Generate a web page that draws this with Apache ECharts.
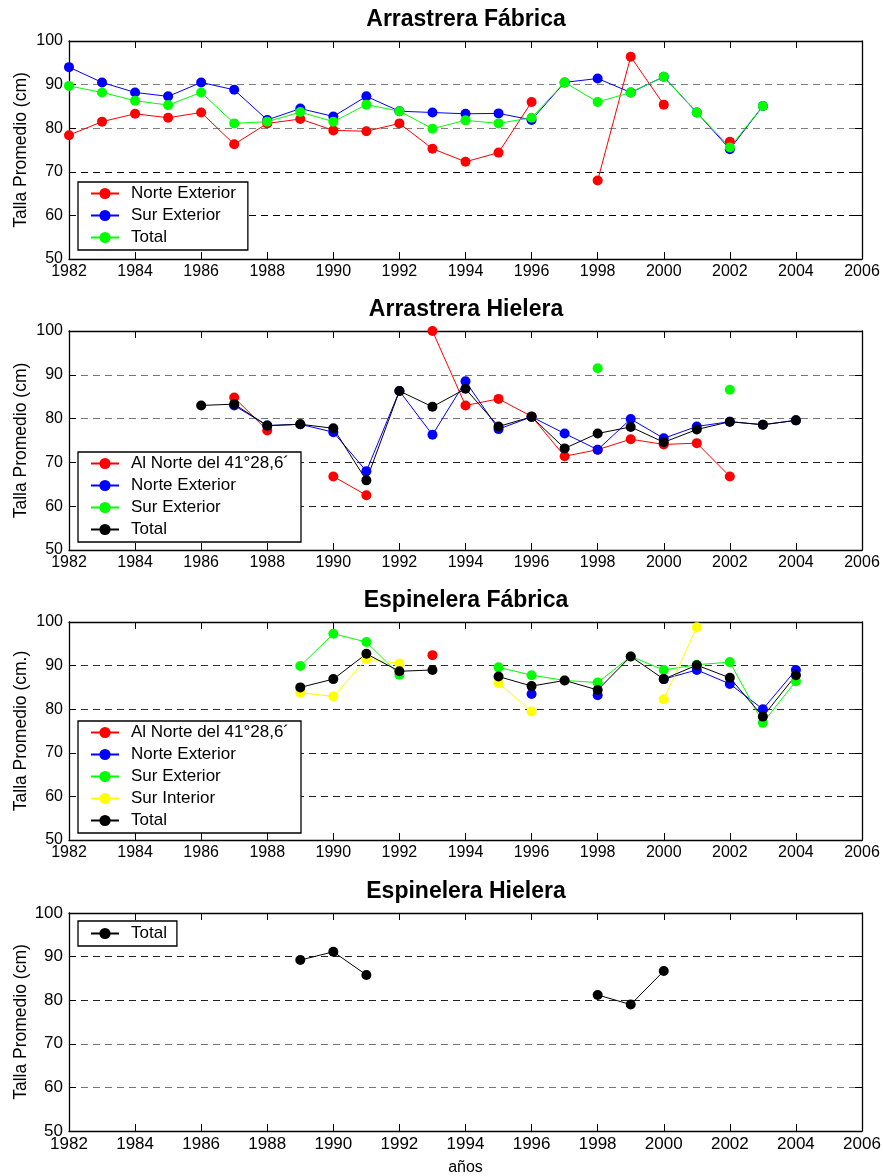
<!DOCTYPE html>
<html><head><meta charset="utf-8">
<script src="https://cdn.jsdelivr.net/npm/echarts@6/dist/echarts.min.js"></script>
<style>html,body{margin:0;padding:0;background:#fff}#c{width:883px;height:1176px}</style>
</head><body><div id="c"></div>
<script>
const years = [1982,1983,1984,1985,1986,1987,1988,1989,1990,1991,1992,1993,1994,1995,1996,1997,1998,1999,2000,2001,2002,2003,2004];
const xTicks = [1982,1984,1986,1988,1990,1992,1994,1996,1998,2000,2002,2004,2006];
const yTicks = [50,60,70,80,90,100];

// Arrastrera Fábrica
const afNorteExt = [78.4,81.5,83.3,82.4,83.6,76.3,81.1,82.1,79.5,79.3,81.1,75.3,72.3,74.4,86.0,null,68.0,96.4,85.4,null,76.9,null,null];
const afSurExt   = [94.0,90.5,88.2,87.3,90.5,88.8,81.9,84.5,82.7,87.3,83.9,83.6,83.3,83.4,81.9,90.5,91.4,88.2,91.8,83.6,75.2,85.1,null];
const afTotal    = [89.7,88.2,86.3,85.3,88.2,81.1,81.5,83.7,81.5,85.4,83.9,79.9,81.8,81.1,82.4,90.5,86.0,88.2,91.8,83.6,75.6,85.1,null];

// Arrastrera Hielera
const ahAlNorte  = [null,null,null,null,null,84.8,77.3,null,66.8,62.5,null,100.0,83.0,84.5,80.5,71.4,72.9,75.3,74.1,74.4,66.8,null,null];
const ahNorteExt = [null,null,null,null,null,83.0,78.4,78.7,76.9,68.0,86.3,76.3,88.5,77.6,80.4,76.6,72.9,79.9,75.5,78.2,79.3,78.6,79.6];
const ahSurExt   = [null,null,null,null,null,null,null,null,null,null,null,null,null,null,null,null,91.5,null,null,null,86.6,null,null];
const ahTotal    = [null,null,null,null,83.0,83.3,78.4,78.7,77.8,65.9,86.3,82.7,86.8,78.2,80.4,73.2,76.6,78.1,74.6,77.5,79.3,78.6,79.6];

// Espinelera Fábrica
const efAlNorte  = [null,null,null,null,null,null,null,null,null,null,null,92.4,null,null,null,null,null,null,null,null,null,null,null];
const efNorteExt = [null,null,null,null,null,null,null,null,null,null,null,null,null,null,83.5,null,83.2,null,86.9,89.0,85.8,80.0,89.0];
const efSurExt   = [null,null,null,null,null,null,null,89.9,97.3,95.4,87.9,null,null,89.6,87.8,86.6,86.1,92.1,89.0,90.2,90.8,76.9,86.4];
const efSurInt   = [null,null,null,null,null,null,null,83.8,82.9,91.5,90.5,null,null,86.0,79.5,null,null,null,82.3,98.8,null,null,null];
const efTotal    = [null,null,null,null,null,null,null,85.0,86.9,92.7,88.7,89.0,null,87.5,85.3,86.6,84.4,92.1,86.9,90.1,87.2,78.3,87.8];

// Espinelera Hielera
const ehTotal    = [null,null,null,null,null,null,null,89.2,91.1,85.8,null,null,null,null,null,null,81.2,79.0,86.7,null,null,null,null];

const FONT = "'Liberation Sans', Arial, sans-serif";
const NARROW = "'Liberation Sans Narrow', 'Liberation Sans', Arial, sans-serif";

const panels = [
  {title:'Arrastrera Fábrica', top:41, height:218, ylab:'Talla Promedio (cm)', font:FONT,
   gridCol:['#000','#000','#000','#808080','#808080','#000'],
   legend:{top:182, items:3},
   series:[['Norte Exterior','#ff0000',afNorteExt],['Sur Exterior','#0000ff',afSurExt],['Total','#00ff00',afTotal]]},
  {title:'Arrastrera Hielera', top:331, height:219, ylab:'Talla Promedio (cm)', font:FONT,
   gridCol:['#000','#222','#222','#777','#777','#000'],
   legend:{top:452, items:4},
   series:[['Al Norte del 41°28,6´','#ff0000',ahAlNorte],['Norte Exterior','#0000ff',ahNorteExt],['Sur Exterior','#00ff00',ahSurExt],['Total','#000000',ahTotal]]},
  {title:'Espinelera Fábrica', top:622, height:218, ylab:'Talla Promedio (cm.)', font:FONT,
   gridCol:['#000','#222','#222','#333','#333','#000'],
   legend:{top:721, items:5},
   series:[['Al Norte del 41°28,6´','#ff0000',efAlNorte],['Norte Exterior','#0000ff',efNorteExt],['Sur Exterior','#00ff00',efSurExt],['Sur Interior','#ffff00',efSurInt],['Total','#000000',efTotal]]},
  {title:'Espinelera Hielera', top:913, height:218, ylab:'Talla Promedio (cm)', font:NARROW,
   gridCol:['#000','#777','#777','#222','#222','#000'],
   legend:{top:921, items:1},
   series:[['Total','#000000',ehTotal]]}
];

const option = {
  animation:false,
  backgroundColor:'#fff',
  title:[], grid:[], xAxis:[], yAxis:[], legend:[], series:[]
};

panels.forEach((p, gi) => {
  option.title.push({
    text:p.title, left:466, top:p.top-33, textAlign:'center', padding:0,
    textStyle:{fontFamily:FONT, fontSize:23, fontWeight:'bold', color:'#000'}
  });
  option.grid.push({left:69, right:21, top:p.top, height:p.height, containLabel:false, outerBoundsMode:'none'});
  const tickFont = gi===3 ? NARROW : FONT;
  const tickSize = gi===3 ? 17 : 16;
  option.xAxis.push({
    type:'value', gridIndex:gi, min:1982, max:2006, interval:2, position:'bottom',
    axisLine:{show:true, onZero:false, lineStyle:{color:'#000', width:1.3}},
    axisTick:{show:true, inside:true, length:7, lineStyle:{color:'#000'}},
    axisLabel:{show:true, margin:5, color:'#000', fontFamily:tickFont, fontSize:tickSize, formatter:v=>String(v)},
    splitLine:{show:false},
    name: gi===3 ? 'años' : '', nameLocation:'middle', nameGap:29, nameMoveOverlap:false,
    nameTextStyle:{fontFamily:NARROW, fontSize:16, color:'#000'}
  });
  option.xAxis.push({
    type:'value', gridIndex:gi, min:1982, max:2006, interval:2, position:'top',
    axisLine:{show:true, onZero:false, lineStyle:{color:'#000', width:1.3}},
    axisTick:{show:true, inside:true, length:7, lineStyle:{color:'#000'}},
    axisLabel:{show:false}, splitLine:{show:false}
  });
  option.yAxis.push({
    type:'value', gridIndex:gi, min:50, max:100, interval:10, position:'left',
    axisLine:{show:true, onZero:false, lineStyle:{color:'#000', width:1.3}},
    axisTick:{show:true, inside:true, length:7, lineStyle:{color:'#000'}},
    axisLabel:{show:true, margin:6, color:'#000', fontFamily:tickFont, fontSize:tickSize},
    splitLine:{show:true, lineStyle:{type:[7,5], color:p.gridCol, width:1.2}},
    name:p.ylab, nameLocation:'middle', nameGap:39, nameRotate:90, nameMoveOverlap:false,
    nameTextStyle:{fontFamily:FONT, fontSize:17.5, color:'#000'}
  });
  option.yAxis.push({
    type:'value', gridIndex:gi, min:50, max:100, interval:10, position:'right',
    axisLine:{show:true, onZero:false, lineStyle:{color:'#000', width:1.3}},
    axisTick:{show:true, inside:true, length:7, lineStyle:{color:'#000'}},
    axisLabel:{show:false}, splitLine:{show:false}
  });
  const names = [];
  p.series.forEach(([name,color,vals]) => {
    const key = 'p'+gi+'|'+name;
    names.push(key);
    option.series.push({
      type:'line', name:key, xAxisIndex:gi*2, yAxisIndex:gi*2,
      data: years.map((y,i)=>[y, vals[i]===null ? '-' : vals[i]]),
      symbol:'circle', symbolSize:10, showSymbol:true, showAllSymbol:true,
      connectNulls:false,
      lineStyle:{color, width:1}, itemStyle:{color, borderWidth:0},
      emphasis:{disabled:true}
    });
  });
  option.legend.push({
    data:names, orient:'vertical', left:78, top:p.legend.top,
    formatter:n=>n.split('|')[1],
    backgroundColor:'#fff', borderColor:'#000', borderWidth:1.3,
    padding: gi===3 ? [4,10,4,12] : [3,12,4,12],
    itemGap:5, itemWidth:28, itemHeight:14,
    textStyle:{fontFamily:p.font, fontSize: 17, lineHeight:17, color:'#000', padding:[0,0,0,7]},
    selectedMode:false
  });
});

const chart = echarts.init(document.getElementById('c'), null, {renderer:'canvas'});
chart.setOption(option);
</script></body></html>
